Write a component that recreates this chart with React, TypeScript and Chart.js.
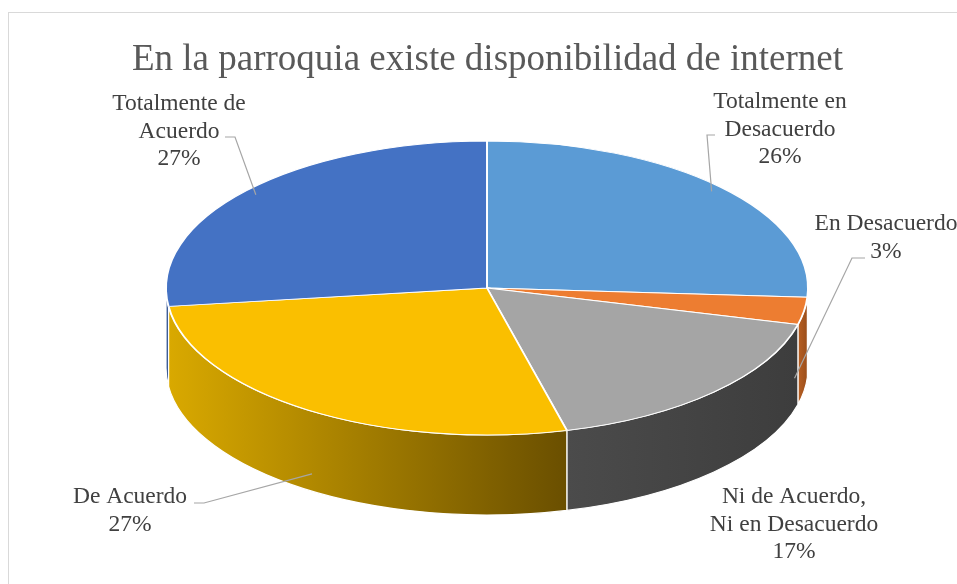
import React, { useEffect, useRef } from "react";
import { Chart, registerables } from "chart.js";

Chart.register(...registerables);

// ---------- data ----------
const TITLE = "En la parroquia existe disponibilidad de internet";
const categories = [
  "Totalmente en Desacuerdo",
  "En Desacuerdo",
  "Ni de Acuerdo, Ni en Desacuerdo",
  "De Acuerdo",
  "Totalmente de Acuerdo",
];
const labelLines = [
  ["Totalmente en", "Desacuerdo"],
  ["En Desacuerdo"],
  ["Ni de Acuerdo,", "Ni en Desacuerdo"],
  ["De Acuerdo"],
  ["Totalmente de", "Acuerdo"],
];
const values = [26, 3, 17, 27, 27];

// ---------- styles / layout ----------
const SERIF = "'Liberation Serif', Tinos, 'Times New Roman', 'DejaVu Serif', serif";
const topColors = ["#5B9BD5", "#ED7D31", "#A5A5A5", "#FABF00", "#4472C4"];
const sideColors = [
  ["#4A80B3", "#3A6A96"],
  ["#B85F22", "#9A4E1B"],
  ["#4B4B4B", "#3D3D3D"],
  ["#D9A900", "#6A4F00"],
  ["#35599C", "#2D4C85"],
];
const GEOM = { cx: 487, cy: 288, rx: 321, ry: 147, depth: 80 };
const LABEL_LAYOUT = [
  { x: 780, y: 102, lead: [[715, 135], [707, 135]] },
  { x: 886, y: 224, lead: [[865, 258], [852, 258]] },
  { x: 794, y: 497, lead: null },
  { x: 130, y: 497, lead: [[194, 503], [204, 503]] },
  { x: 179, y: 104, lead: [[225, 137], [235, 137]] },
];
const LINE_H = 27.5;
const LABEL_FONT = "23.5px " + SERIF;

const pie3d = {
  id: "pie3d",
  beforeDraw(chart: any) {
    const ctx = chart.ctx;
    ctx.save();
    ctx.fillStyle = "#ffffff";
    ctx.fillRect(0, 0, chart.width, chart.height);
    ctx.strokeStyle = "#D9D9D9";
    ctx.lineWidth = 1;
    ctx.strokeRect(8.5, 12.5, chart.width + 40, chart.height + 40);
    ctx.restore();
  },
  beforeDatasetsDraw(chart: any) {
    const ctx = chart.ctx;
    const arcs = chart.getDatasetMeta(0).data;
    const { cx, cy, rx, ry, depth } = GEOM;
    arcs.forEach((arc: any, i: number) => {
      const { startAngle, endAngle } = arc.getProps(["startAngle", "endAngle"], true);
      const a = Math.max(startAngle, 0);
      const b = Math.min(endAngle, Math.PI);
      if (b <= a) return;
      const xl = cx + rx * Math.cos(b);
      const xr = cx + rx * Math.cos(a);
      const g = ctx.createLinearGradient(xl, 0, xr + 0.01, 0);
      g.addColorStop(0, sideColors[i][0]);
      g.addColorStop(1, sideColors[i][1]);
      ctx.save();
      ctx.beginPath();
      ctx.ellipse(cx, cy, rx, ry, 0, a, b, false);
      ctx.lineTo(cx + rx * Math.cos(b), cy + depth + ry * Math.sin(b));
      ctx.ellipse(cx, cy + depth, rx, ry, 0, b, a, true);
      ctx.closePath();
      ctx.fillStyle = g;
      ctx.fill();
      ctx.strokeStyle = "#ffffff";
      ctx.lineWidth = 1.2;
      ctx.stroke();
      ctx.restore();
    });
    const a0 = arcs[0];
    const r = a0.outerRadius;
    ctx.save();
    ctx.translate(cx, cy);
    ctx.scale(rx / r, ry / r);
    ctx.translate(-a0.x, -a0.y);
  },
  afterDatasetsDraw(chart: any) {
    const ctx = chart.ctx;
    ctx.restore();
    const arcs = chart.getDatasetMeta(0).data;
    const { cx, cy, rx, ry, depth } = GEOM;
    const total = values.reduce((s, v) => s + v, 0);
    ctx.save();
    ctx.font = LABEL_FONT;
    ctx.fillStyle = "#404040";
    ctx.textAlign = "center";
    ctx.textBaseline = "middle";
    arcs.forEach((arc: any, i: number) => {
      const L = LABEL_LAYOUT[i];
      const lines = [...labelLines[i], Math.round((values[i] / total) * 100) + "%"];
      lines.forEach((t, k) => ctx.fillText(t, L.x, L.y + k * LINE_H));
      if (L.lead) {
        const { startAngle, endAngle } = arc.getProps(["startAngle", "endAngle"], true);
        const mid = (startAngle + endAngle) / 2;
        const s = Math.sin(mid);
        const f = s > 0 ? 0.97 : 0.96;
        const px = cx + rx * Math.cos(mid) * f;
        const py = cy + ry * s * f + (s > 0 ? depth * 0.85 : 0);
        ctx.beginPath();
        ctx.moveTo(L.lead[0][0], L.lead[0][1]);
        ctx.lineTo(L.lead[1][0], L.lead[1][1]);
        ctx.lineTo(px, py);
        ctx.strokeStyle = "#A6A6A6";
        ctx.lineWidth = 1.2;
        ctx.stroke();
      }
    });
    ctx.restore();
  },
};

export default function App() {
  const ref = useRef<HTMLCanvasElement | null>(null);
  useEffect(() => {
    if (!ref.current) return;
    const chart = new Chart(ref.current, {
      type: "pie",
      data: {
        labels: categories,
        datasets: [
          {
            data: values,
            backgroundColor: topColors,
            borderColor: "#ffffff",
            borderWidth: 1.5,
            clip: false as any,
          },
        ],
      },
      options: {
        responsive: false,
        animation: false,
        devicePixelRatio: 1,
        layout: { padding: { left: 18, right: 0, top: 0, bottom: 0 } },
        plugins: {
          legend: { display: false },
          tooltip: { enabled: false },
          title: {
            display: true,
            text: TITLE,
            color: "#595959",
            font: { family: SERIF, size: 37, weight: "normal" as any },
            padding: { top: 38, bottom: 10 },
          },
        },
        events: [],
      },
      plugins: [pie3d],
    });
    let alive = true;
    const fonts: any = (document as any).fonts;
    if (fonts && fonts.load) {
      Promise.all([
        fonts.load("37px 'Liberation Serif'"),
        fonts.load("23.5px 'Liberation Serif'"),
      ])
        .catch(() => null)
        .then(() => {
          if (alive) chart.update();
        });
    }
    return () => {
      alive = false;
      chart.destroy();
    };
  }, []);
  return (
    <>
      <span
        style={{ fontFamily: SERIF, position: "absolute", left: -9999, top: 0, fontSize: 24 }}
      >
        Aa
      </span>
      <canvas
        ref={ref}
        width={957}
        height={584}
        style={{ position: "fixed", left: 0, top: 0, width: 957, height: 584 }}
      />
    </>
  );
}
